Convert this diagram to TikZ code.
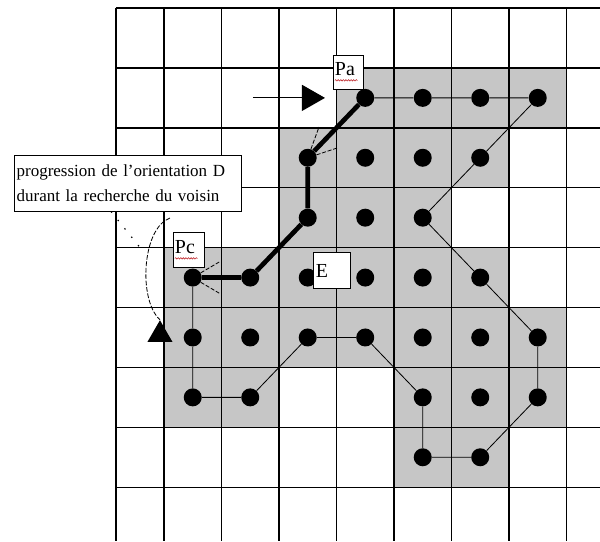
\documentclass[tikz,border=0pt]{standalone}
\usepackage{fontspec}
\setmainfont{Liberation Serif}
\usepackage{xcolor}
\usepackage{tikz}
\usetikzlibrary{arrows.meta,shapes.geometric,decorations.pathmorphing}
\definecolor{cellgray}{HTML}{C6C6C6}
\definecolor{squigred}{HTML}{C0282D}
\tikzset{
  cell/.style={fill=cellgray},
  gridline/.style={line width=1.2pt},
  dot/.style={circle, fill=black, inner sep=0pt, minimum size=0.54cm},
  contour/.style={line width=0.7pt},
  trace/.style={line width=4pt},
  ray/.style={line width=0.7pt, dash pattern=on 3.5pt off 1.5pt},
  lbl/.style={draw, fill=white, line width=0.8pt, align=left, inner sep=0.06cm, font=\fontsize{17}{19}\selectfont},
  note/.style={draw, fill=white, line width=0.8pt, align=left, inner xsep=0.08cm, inner ysep=0pt, text width=6.65cm, minimum height=1.68cm, font=\fontsize{14.5}{21}\selectfont},
  callout/.style={line width=1pt, dash pattern=on 1.2pt off 8pt},
  turn/.style={line width=0.7pt, dash pattern=on 4pt off 1.5pt},
  arrowtri/.style={regular polygon, regular polygon sides=3, fill=black, inner sep=0pt, minimum size=0.87cm},
  heading/.style={-{Triangle[length=0.69cm,width=0.78cm]}, line width=0.9pt},
  squiggle/.style={draw=squigred, line width=0.5pt, decorate, decoration={snake, amplitude=0.6pt, segment length=2.2pt}},
}
\newcommand{\lblbox}[6]{%
  \node[lbl, text width=#3, text height=#4, text depth=#5] (#1) at (#2) {#6};}
\newcommand{\squig}[1]{%
  \draw[squiggle] ([xshift=0.07cm,yshift=-0.16cm]#1.base west) -- ++(0.68cm,0);}

\begin{document}
\begin{tikzpicture}[x=1.725cm,y=-1.797cm]
  \useasboundingbox (-2.852,-0.134) rectangle (7.583,8.898);
  \foreach \i/\j in {3/1,4/1,5/1,6/1, 2/2,3/2,4/2,5/2, 2/3,3/3,4/3, 0/4,1/4,2/4,3/4,4/4,5/4,
                     0/5,1/5,2/5,3/5,4/5,5/5,6/5, 0/6,1/6,4/6,5/6,6/6, 4/7,5/7}
    \fill[cell] (\i,\j) rectangle ++(1,1);
  \foreach \x in {-0.835,0,1,2,3,4,5,6,7}
    \draw[gridline] (\x,0) -- (\x,8.898);
  \foreach \y in {0,1,2,3,4,5,6,7,8}
    \draw[gridline] (-0.835,\y) -- (7.583,\y);
  \foreach \i/\j in {3/1,4/1,5/1,6/1, 2/2,3/2,4/2,5/2, 2/3,3/3,4/3, 0/4,1/4,2/4,3/4,4/4,5/4,
                     0/5,1/5,2/5,3/5,4/5,5/5,6/5, 0/6,1/6,4/6,5/6,6/6, 4/7,5/7}
    \node[dot] (p\i\j) at (\i+.5,\j+.5) {};
  \draw[contour] (p31) -- (p41) -- (p51) -- (p61) -- (p52) -- (p43) -- (p54) -- (p65) -- (p66)
    -- (p57) -- (p47) -- (p46) -- (p35) -- (p25) -- (p16) -- (p06) -- (p05) -- (p04);
  \draw[trace] (p04) -- (p14) -- (p23) -- (p22) -- (p31);
  \coordinate (r1) at (2.696,1.987);
  \coordinate (r2) at (3.009,2.337);
  \coordinate (r3) at (0.96,4.24);
  \coordinate (r4) at (0.96,4.76);
  \draw[ray] (p22) -- (r1);
  \draw[ray] (p22) -- (r2);
  \draw[ray] (p04) -- (r3);
  \draw[ray] (p04) -- (r4);
  \lblbox{pa}{3.2,1.068}{0.78cm}{0.54cm}{0.36cm}{Pa}
  \lblbox{pc}{0.426,4.032}{0.81cm}{0.57cm}{0.36cm}{Pc}
  \lblbox{e}{2.930,4.374}{0.99cm}{0.69cm}{0.27cm}{E}
  \squig{pa}
  \squig{pc}
  \node[note] (note) at (-0.635,2.922) {progression de l’orientation D\\durant la recherche du voisin};
  \coordinate (arcstart) at (0.104,3.506);
  \node[arrowtri] (tri) at (-0.070,5.454) {};
  \draw[turn] (arcstart) .. controls (-0.383,3.673) and (-0.452,4.875) .. (tri.corner 1);
  \coordinate (callend) at (-0.383,4.04);
  \draw[callout] (note.240) -- (callend);
  \coordinate (headfrom) at (1.548,1.5);
  \coordinate (headto) at (2.8,1.5);
  \draw[heading] (headfrom) -- (headto);
\end{tikzpicture}
\end{document}
